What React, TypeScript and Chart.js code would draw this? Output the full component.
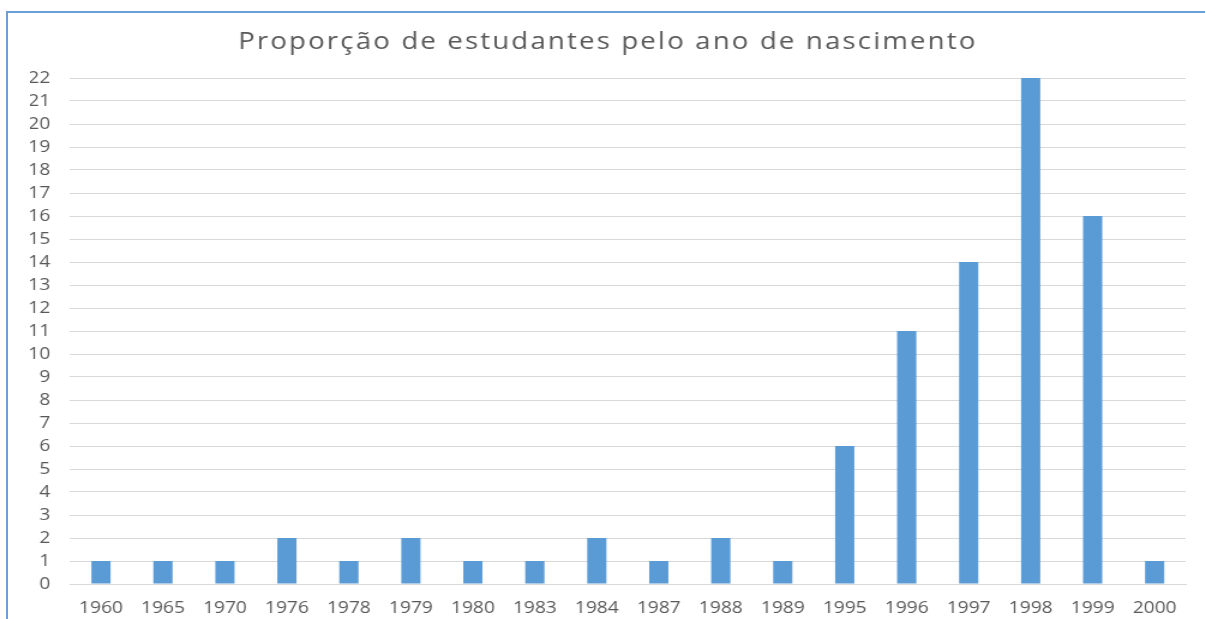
import React, { useEffect, useRef } from "react";
import { Chart, registerables } from "chart.js";

Chart.register(...registerables);

const years = ["1960", "1965", "1970", "1976", "1978", "1979", "1980", "1983", "1984", "1987", "1988", "1989", "1995", "1996", "1997", "1998", "1999", "2000"];
const counts = [1, 1, 1, 2, 1, 2, 1, 1, 2, 1, 2, 1, 6, 11, 14, 22, 16, 1];
const titleText = "Proporção de estudantes pelo ano de nascimento";
const yMin = 0;
const yMax = 22;

const STRETCH = 1.2;
const PAGE_W = 1205;
const PAGE_H = 619;
const CANVAS_W = Math.round(PAGE_W / STRETCH);

const titleSpacingPlugin = {
  id: "titleSpacing",
  beforeDraw(chart: any) {
    chart.ctx.letterSpacing = "1.8px";
  },
  beforeDatasetsDraw(chart: any) {
    chart.ctx.letterSpacing = "0px";
  },
  afterDraw(chart: any) {
    chart.ctx.letterSpacing = "0px";
  },
};

export default function App() {
  const ref = useRef<HTMLCanvasElement | null>(null);

  useEffect(() => {
    document.body.style.margin = "0";
    const canvas = ref.current;
    if (!canvas) return;
    const font = "'Open Sans', 'DejaVu Sans', sans-serif";
    const chart = new Chart(canvas, {
      type: "bar",
      data: {
        labels: years,
        datasets: [
          {
            data: counts,
            backgroundColor: "#5B9BD5",
            borderWidth: 0,
            categoryPercentage: 1,
            barPercentage: 0.31,
          },
        ],
      },
      plugins: [titleSpacingPlugin],
      options: {
        responsive: false,
        animation: false,
        devicePixelRatio: 1,
        layout: { padding: { top: 28.5, right: 16, bottom: 0, left: 25 } },
        plugins: {
          legend: { display: false },
          tooltip: { enabled: false },
          title: {
            display: true,
            text: titleText,
            color: "#595959",
            font: { family: font, size: 23, weight: "normal" },
            padding: { top: 0, bottom: 21.9 },
          },
        },
        scales: {
          x: {
            grid: { display: false },
            border: { display: true, color: "#D9D9D9" },
            ticks: {
              z: 1,
              color: "#595959",
              font: { family: font, size: 16 },
              padding: 7,
              maxRotation: 0,
              autoSkip: false,
            },
            afterFit: (scale: any) => {
              scale.height = 35;
            },
          },
          y: {
            min: yMin,
            max: yMax,
            grid: { color: "#D9D9D9", drawTicks: false },
            border: { display: false },
            ticks: {
              z: 1,
              stepSize: 1,
              color: "#595959",
              font: { family: font, size: 16 },
              padding: 16.5,
            },
            afterFit: (scale: any) => {
              scale.width = 33.3;
            },
          },
        },
      },
    });
    return () => chart.destroy();
  }, []);

  return (
    <div style={{ position: "fixed", left: 0, top: 0, width: PAGE_W, height: PAGE_H, overflow: "hidden", background: "#fff" }}>
      <canvas
        ref={ref}
        width={CANVAS_W}
        height={PAGE_H}
        style={{ position: "absolute", left: 0, top: 0, transform: `scaleX(${STRETCH})`, transformOrigin: "0 0" }}
      />
      <div
        style={{
          position: "absolute",
          left: 6,
          top: 11,
          right: 0,
          bottom: 0,
          borderLeft: "2px solid #6A9FD8",
          borderTop: "2px solid #6A9FD8",
          pointerEvents: "none",
        }}
      />
    </div>
  );
}
